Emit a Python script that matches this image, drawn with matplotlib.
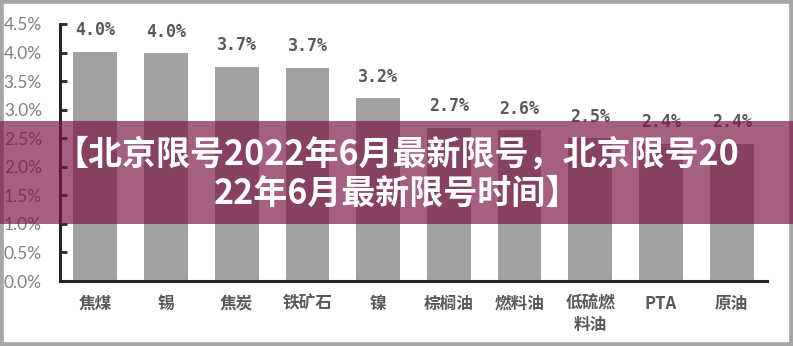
import matplotlib
matplotlib.use("Agg")
import matplotlib.pyplot as plt
from matplotlib.patches import Rectangle

categories = ["焦煤", "锡", "焦炭", "铁矿石", "镍", "棕榈油", "燃料油", "低硫燃\n料油", "PTA", "原油"]
values = [4.01, 3.99, 3.75, 3.73, 3.20, 2.68, 2.64, 2.50, 2.40, 2.40]
value_labels = ["4.0%", "4.0%", "3.7%", "3.7%", "3.2%", "2.7%", "2.6%", "2.5%", "2.4%", "2.4%"]
yticks = [0, 0.5, 1.0, 1.5, 2.0, 2.5, 3.0, 3.5, 4.0, 4.5]
ytick_labels = ["0.0%", "0.5%", "1.0%", "1.5%", "2.0%", "2.5%", "3.0%", "3.5%", "4.0%", "4.5%"]
banner_lines = ["【北京限号2022年6月最新限号，北京限号20", "22年6月最新限号时间】"]

W, H = 793, 346
fig = plt.figure(figsize=(W / 100, H / 100), dpi=100)
fig.patch.set_facecolor("white")
ax = fig.add_axes([60 / W, 1 - 281 / H, (767 - 60) / W, (281 - 24) / H])

x = list(range(len(categories)))
ax.bar(x, values, width=0.62, color="#a0a0a0", zorder=2)
ax.set_xlim(-0.5, len(categories) - 0.5)
ax.set_ylim(0, 4.5)

for xi, v, lab in zip(x, values, value_labels):
    ax.annotate(lab, (xi, v), xytext=(0, 9), textcoords="offset points",
                ha="center", va="bottom", fontsize=12, fontweight="bold",
                family=["DejaVu Sans Mono"], color="#595959")

ax.set_yticks(yticks)
ax.set_yticklabels(ytick_labels, family=["Lato", "DejaVu Sans"], fontsize=12.5,
                   color="#808080")
ax.set_xticks(x)
ax.set_xticklabels(categories, family=["Noto Sans CJK SC", "DejaVu Sans"],
                   fontsize=12, color="#595959", fontweight="bold", linespacing=1.25)
ax.tick_params(axis="y", direction="in", length=5, width=2, color="#262626", pad=13)
ax.tick_params(axis="x", length=0, pad=10)
for s in ["top", "right"]:
    ax.spines[s].set_visible(False)
for s in ["left", "bottom"]:
    ax.spines[s].set_linewidth(2.2)
    ax.spines[s].set_color("#262626")

# outer frame
fig.patches.append(Rectangle((0, 0), 1, 1, transform=fig.transFigure, fill=False,
                             edgecolor="#a6a6a6", linewidth=5.5, zorder=4))
# banner
fig.patches.append(Rectangle((0, 1 - 224 / H), 1, (224 - 121) / H, transform=fig.transFigure,
                             facecolor=(123 / 255, 21 / 255, 69 / 255), alpha=0.68,
                             edgecolor="none", zorder=5))
fig.text(397 / W, 1 - 155 / H, banner_lines[0], ha="center", va="center", color="white",
         fontsize=24.5, fontweight="bold", family=["Noto Sans CJK SC", "DejaVu Sans"], zorder=6)
fig.text(397 / W, 1 - 193 / H, banner_lines[1], ha="center", va="center", color="white",
         fontsize=24.5, fontweight="bold", family=["Noto Sans CJK SC", "DejaVu Sans"], zorder=6)

fig.savefig("out.png", dpi=100)
